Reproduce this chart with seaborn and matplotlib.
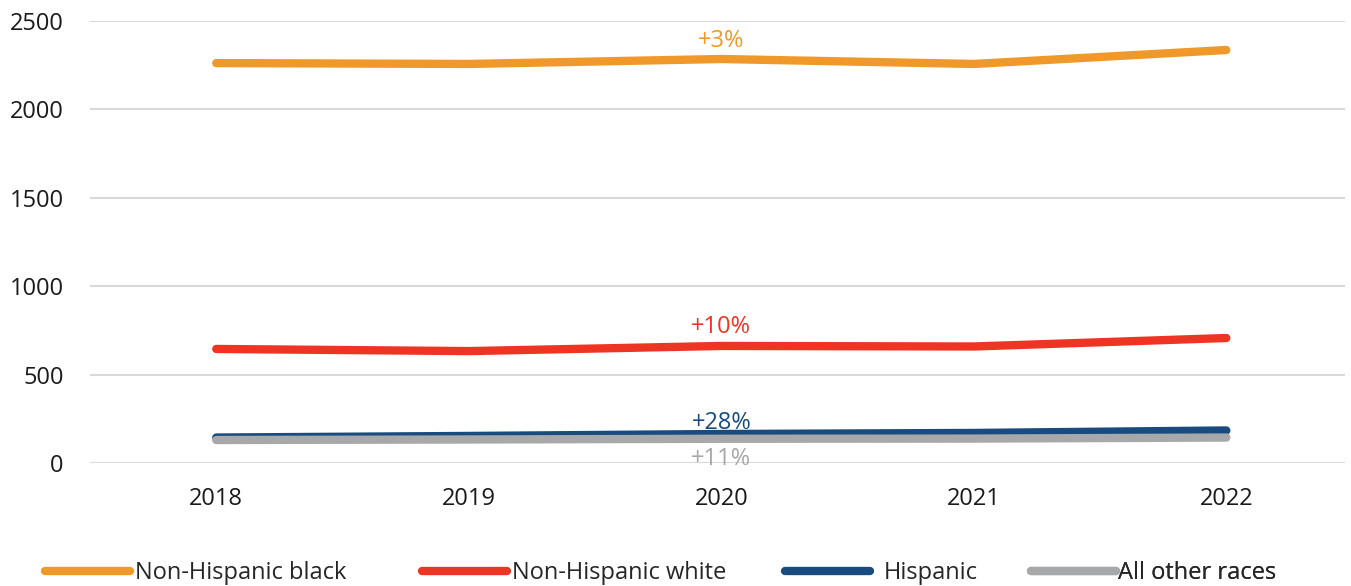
import matplotlib
matplotlib.use("Agg")
import matplotlib.pyplot as plt
import seaborn as sns
import pandas as pd

years = [2018, 2019, 2020, 2021, 2022]
nh_black = [2262, 2257, 2285, 2257, 2336]
nh_white = [645, 633, 662, 659, 707]
hispanic = [144, 153, 164, 170, 184]
other = [130, 133, 137, 138, 144]
series_names = ["Non-Hispanic black", "Non-Hispanic white", "Hispanic", "All other races"]
change_labels = ["+3%", "+10%", "+28%", "+11%"]
colors = ["#F0992A", "#EE3524", "#1A4B7E", "#A7A8AA"]

sns.set_theme(style="white")
plt.rcParams['font.family'] = ['Open Sans', 'DejaVu Sans']

df = pd.DataFrame({
    "year": years * 4,
    "value": nh_black + nh_white + hispanic + other,
    "series": sum([[n] * len(years) for n in series_names], []),
})
df["x"] = df["year"].map({y: i for i, y in enumerate(years)})

FS = 17
fig = plt.figure(figsize=(13.51, 5.86), dpi=100)
ax = fig.add_axes([90 / 1351, 1 - 463 / 586, (1345 - 90) / 1351, (463 - 21) / 586])

sns.lineplot(data=df, x="x", y="value", hue="series", hue_order=series_names,
             palette=colors, linewidth=6, ax=ax, legend=True,
             solid_capstyle="round", solid_joinstyle="round")

ax.set_xlim(-0.5, 4.47)
ax.set_ylim(0, 2500)
ax.set_yticks([0, 500, 1000, 1500, 2000, 2500])
ax.set_xticks(range(len(years)))
ax.set_xticklabels([str(y) for y in years])
ax.yaxis.grid(True, color="#D9D9D9", linewidth=1.5)
ax.set_axisbelow(True)
for s in ax.spines.values():
    s.set_visible(False)
ax.tick_params(axis="both", length=0, labelsize=FS, colors="#1a1a1a")
ax.tick_params(axis="y", pad=19)
ax.tick_params(axis="x", pad=17)
ax.set_xlabel("")
ax.set_ylabel("")

# percent change annotations at 2020
offsets = [(4, "bottom"), (5, "bottom"), (-1, "bottom"), (-6, "top")]
series_vals = [nh_black, nh_white, hispanic, other]
for lab, col, vals, (dy, va) in zip(change_labels, colors, series_vals, offsets):
    ax.annotate(lab, xy=(2, vals[2]), xytext=(0, dy), textcoords="offset points",
                ha="center", va=va, color=col, fontsize=FS)

handles, labels = ax.get_legend_handles_labels()
ax.get_legend().remove()
fs_px = FS * 100 / 72
handle_x = [45, 422, 785, 1031]
textpads = [0.2, 0.2, 0.6, 0.1]
for h, l, hx, tp in zip(handles, labels, handle_x, textpads):
    leg = ax.legend([h], [l], loc="upper left",
                    bbox_to_anchor=((hx - 0.4 * fs_px - 90) / 1255, -0.2),
                    frameon=False, fontsize=FS, handlelength=3.6, handletextpad=tp,
                    borderaxespad=0)
    for line in leg.get_lines():
        line.set_linewidth(6)
        line.set_solid_capstyle("round")
    ax.add_artist(leg)

fig.savefig("out.png", dpi=100)
